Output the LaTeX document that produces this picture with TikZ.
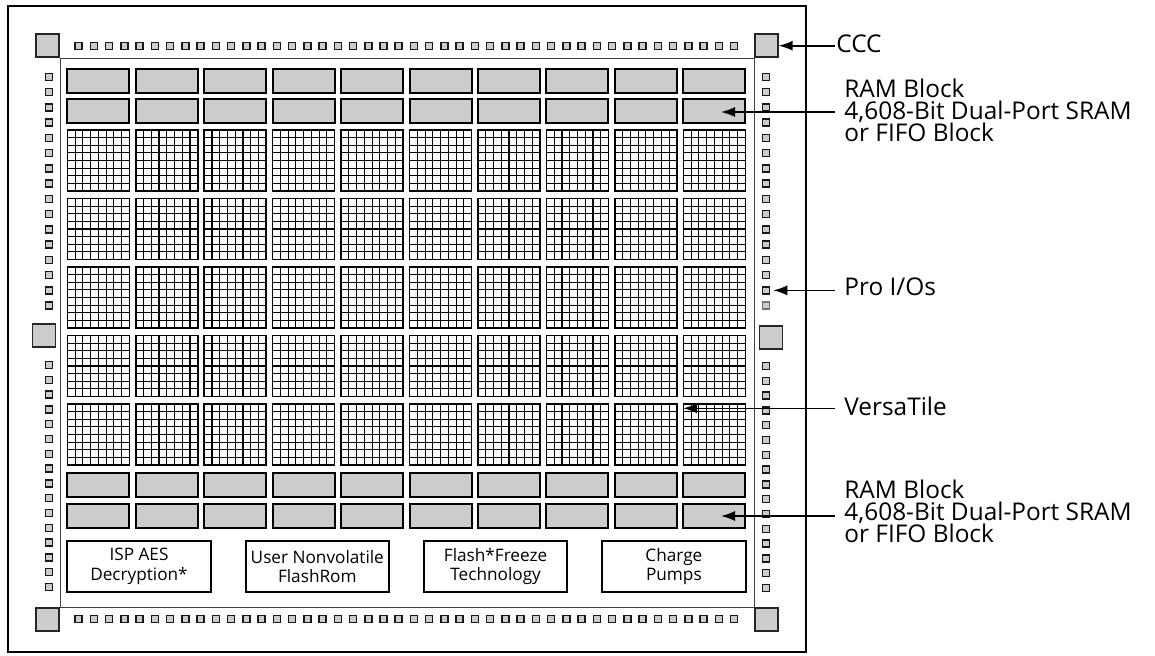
\documentclass[tikz,border=0pt]{standalone}
\usepackage{fontspec}
\setmainfont{Open Sans}
\usetikzlibrary{arrows.meta}

\tikzset{
  pad/.style={draw=black!90, fill=black!20, line width=0.75pt, minimum size=3.5pt, inner sep=0pt},
  bigpad/.style={draw=black!85, fill=black!20, line width=0.8pt, minimum size=11.5pt, inner sep=0pt},
  ramblk/.style={draw, fill=black!20, line width=1pt, minimum width=31pt, minimum height=11.75pt, inner sep=0pt},
  func/.style={draw, line width=1pt, minimum width=71.7pt, minimum height=25.5pt, inner sep=0pt, align=center, font=\fontsize{8.6}{9.75}\selectfont},
  lbl/.style={anchor=base west, inner xsep=4.5pt, inner ysep=0pt, align=left, font=\fontsize{12.2}{11}\selectfont},
  arr/.style={-{Latex[length=7pt,width=5pt]}, line width=0.8pt},
  cellline/.style={line width=0.55pt},
  tileframe/.style={line width=0.8pt},
}

\begin{document}
\begin{tikzpicture}[x=0.5pt, y=-0.5pt]
  \useasboundingbox (0,0) rectangle (1155,655);

  % die outline and core ring
  \draw[line width=1pt] (8,6) rectangle (806,652);
  \draw[line width=0.5pt, black!75] (60,58) rectangle (754,607);

  % corner and side cells
  \node[bigpad, anchor=south east] (cTL) at (60,58) {};
  \node[bigpad, anchor=south west] (ccc) at (754,58) {};
  \node[bigpad, anchor=north east] (cBL) at (60,607) {};
  \node[bigpad, anchor=north west] (cBR) at (754,607) {};
  \node[bigpad] (sL) at (44,335.5) {};
  \node[bigpad] (sR) at (771,337.5) {};

  % I/O pads
  \foreach \i in {0,...,43} {
    \node[pad] (pt\i) at ({78.7+15.24*\i},46.2) {};
    \node[pad] (pb\i) at ({78.7+15.24*\i},619) {};
  }
  \foreach \k in {0,...,15} {
    \node[pad] (pl\k) at (49.2,{77+15.24*\k}) {};
    \node[pad] (pll\k) at (49.2,{365+14.8*\k}) {};
    \node[pad] (prr\k) at (766,{366+14.8*\k}) {};
  }
  \foreach \k in {0,...,14}
    \node[pad] (pr\k) at (766,{77+15.24*\k}) {};
  \node[pad, draw=black!55] (pr15) at (766,{77+15.24*15}) {};

  % RAM blocks
  \foreach \i in {0,...,9} {
    \node[ramblk] (ra\i) at ({98.3+68.45*\i},80.8) {};
    \node[ramblk] (rb\i) at ({98.3+68.45*\i},111.2) {};
    \node[ramblk] (rc\i) at ({98.3+68.45*\i},485) {};
    \node[ramblk] (rd\i) at ({98.3+68.45*\i},516) {};
  }

  % VersaTile array
  \foreach \i in {0,...,9}
    \foreach \j in {0,...,4} {
      \pgfmathsetmacro\tx{67.3+68.45*\i}
      \pgfmathsetmacro\ty{130+68.5*\j}
      \foreach \k in {1,...,7} {
        \draw[cellline] ({\tx+7.75*\k},\ty) -- ++(0,61);
        \draw[cellline] (\tx,{\ty+7.625*\k}) -- ++(62,0);
      }
      \draw[tileframe] (\tx,\ty) rectangle ++(62,61);
    }

  % function blocks
  \node[func] (aes) at (139,566.5) {ISP AES\\Decryption*};
  \node[func] (from) at (317.3,566.5) {User Nonvolatile\\FlashRom};
  \node[func] (ffz) at (495.6,566.5) {Flash*Freeze\\Technology};
  \node[func] (cp) at (673.9,566.5) {Charge\\Pumps};

  % callouts
  \coordinate (ramTtip) at (721,112);
  \coordinate (vtTip) at (683,408.3);
  \coordinate (ramBtip) at (721,516);

  \node[lbl, inner xsep=0.5pt] (lccc) at (835,52) {CCC};
  \node[lbl] (lramT) at (835,141) {RAM Block\\4,608-Bit Dual-Port SRAM\\or FIFO Block};
  \node[lbl] (lpio) at (835,295.5) {Pro I/Os};
  \node[lbl] (lvt) at (835,415) {VersaTile};
  \node[lbl] (lramB) at (835,542) {RAM Block\\4,608-Bit Dual-Port SRAM\\or FIFO Block};

  \draw[arr] (lccc.west |- ccc.east) -- (ccc.east);
  \draw[arr] (lramT.west |- ramTtip) -- (ramTtip);
  \draw[arr] (lpio.west |- pr14.east) -- ([xshift=1.5pt]pr14.east);
  \draw[arr] (lvt.west |- vtTip) -- (vtTip);
  \draw[arr] (lramB.west |- ramBtip) -- (ramBtip);
\end{tikzpicture}
\end{document}
